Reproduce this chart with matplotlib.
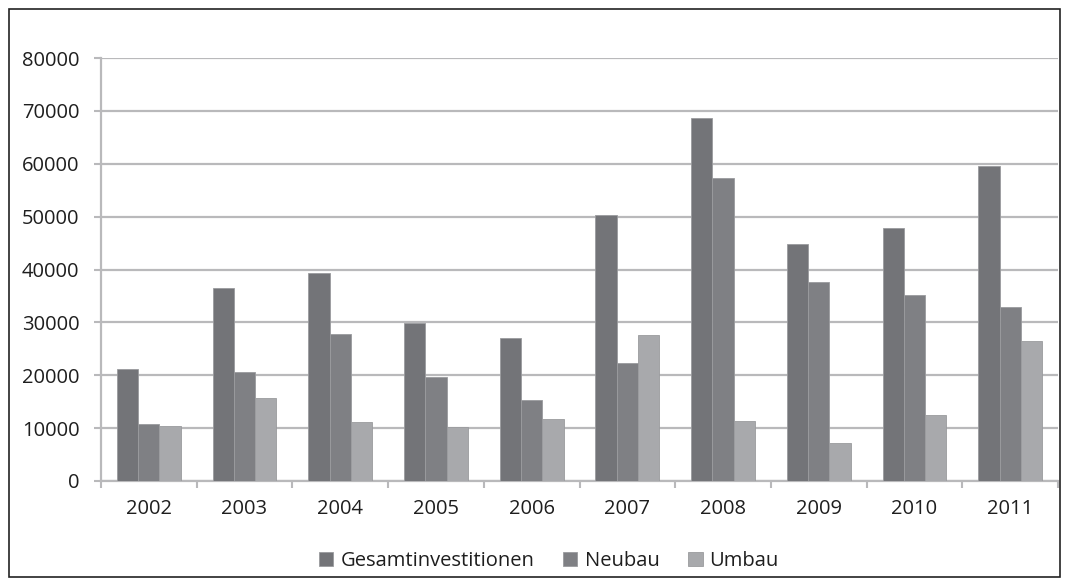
import matplotlib
matplotlib.use("Agg")
import matplotlib.pyplot as plt
import numpy as np
from matplotlib.patches import Rectangle

years = ["2002", "2003", "2004", "2005", "2006", "2007", "2008", "2009", "2010", "2011"]
gesamt = [21200, 36500, 39300, 29900, 27000, 50300, 68700, 44900, 47800, 59500]
neubau = [10800, 20700, 27800, 19600, 15300, 22400, 57300, 37700, 35200, 32900]
umbau = [10400, 15700, 11200, 10200, 11800, 27600, 11400, 7200, 12500, 26500]

series = [("Gesamtinvestitionen", gesamt, "#737478"),
          ("Neubau", neubau, "#7f8084"),
          ("Umbau", umbau, "#a8a9ac")]

plt.rcParams['font.family'] = ['Open Sans', 'DejaVu Sans']

fig = plt.figure(figsize=(10.69, 5.86), dpi=100)
ax = fig.add_axes([101/1069, 1-481/586, (1058-101)/1069, (481-58)/586])

x = np.arange(len(years))
w = 0.222
for i, (name, vals, col) in enumerate(series):
    ax.bar(x + (i - 1) * w, vals, width=w, color=col, edgecolor="#9a9b9e",
           linewidth=0.6, label=name, zorder=3)

ax.set_xlim(-0.5, len(years) - 0.5)
ax.set_ylim(0, 80000)
ax.set_yticks(np.arange(0, 80001, 10000))
ax.set_yticklabels([str(v) for v in range(0, 80001, 10000)])
ax.grid(axis="y", color="#b9b9bb", linewidth=1.6, zorder=0)
ax.set_xticks(x)
ax.set_xticklabels(years)
ax.set_xticks(np.arange(-0.5, len(years), 1.0), minor=True)
ax.tick_params(axis="x", which="major", length=0, pad=13, labelsize=14.5, labelcolor="#1e1e1e")
ax.tick_params(axis="x", which="minor", length=5, width=1.5, color="#b9b9bb", direction="out")
ax.tick_params(axis="y", length=5, width=1.5, color="#b9b9bb", pad=10.5, labelsize=14.5, labelcolor="#1e1e1e")
for s in ["top", "right"]:
    ax.spines[s].set_visible(False)
for s in ["left", "bottom"]:
    ax.spines[s].set_color("#b9b9bb")
    ax.spines[s].set_linewidth(1.6)

leg = fig.legend(loc="center", bbox_to_anchor=(549/1069, 1-561/586), ncol=3, frameon=False,
                 fontsize=14.5, handlelength=0.7, handleheight=0.7, handletextpad=0.35,
                 columnspacing=1.45)
for t in leg.get_texts():
    t.set_color("#1e1e1e")

fig.patches.append(Rectangle((9/1069, 1-577/586), (1060-9)/1069, (577-9)/586,
                             transform=fig.transFigure, fill=False,
                             edgecolor="#222222", linewidth=1.2))

fig.savefig("out.png", dpi=100)
